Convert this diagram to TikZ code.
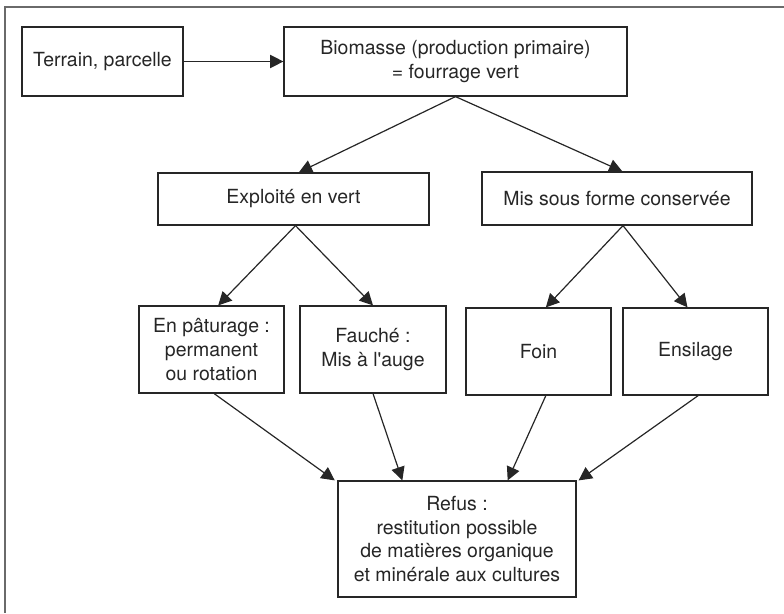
\documentclass[tikz,border=0pt]{standalone}
\usepackage{fontspec}
\setmainfont{TeX Gyre Heros}
\usetikzlibrary{arrows.meta}

\definecolor{trait}{HTML}{262626}
\definecolor{cadre}{HTML}{6A6A6A}

\tikzset{every picture/.style={line width=0.75pt}}
\tikzset{
  boite/.style={draw=trait, line width=0.9pt, align=center, inner sep=0pt,
    text=trait, font=\fontsize{14.6}{17.8}\selectfont},
  fleche/.style={draw=trait, line width=0.9pt, -{Triangle[length=10pt,width=10pt]}}
}

\begin{document}
\begin{tikzpicture}[x=0.75pt,y=0.75pt,yscale=-1,xscale=1]
	\useasboundingbox (0,0) rectangle (784,613);

	%Shape: Frame
	\draw [cadre, line width=1.1pt] (784,7) -- (5,7) -- (5,613) ;

	% Text Node
	\node [boite, minimum width=120.75pt, minimum height=51.75pt] (terrain) at (102.5,61.5) {Terrain, parcelle};
	% Text Node
	\node [boite, minimum width=257.25pt, minimum height=51.75pt] (bio) at (455.5,61.5) {Biomasse (production primaire)\\= fourrage vert};
	% Text Node
	\node [boite, minimum width=203.25pt, minimum height=39pt] (vert) at (293.5,199) {Exploité en vert};
	% Text Node
	\node [boite, minimum width=202.5pt, minimum height=39.75pt] (conserve) at (617,198.5) {Mis sous forme conservée};
	% Text Node
	\node [boite, minimum width=108.75pt, minimum height=65.25pt] (pature) at (211.5,349.5) {En pâturage :\\permanent\\ou rotation};
	% Text Node
	\node [boite, minimum width=109.5pt, minimum height=65.25pt] (fauche) at (373,349.5) {Fauché :\\Mis à l\textquotesingle auge};
	% Text Node
	\node [boite, minimum width=108.75pt, minimum height=65.25pt] (foin) at (538.5,351.5) {Foin};
	% Text Node
	\node [boite, minimum width=108.75pt, minimum height=65.25pt] (ensilage) at (695.5,351.5) {Ensilage};
	% Text Node
	\node [boite, minimum width=178.5pt, minimum height=87pt] (refus) at (457,539) {Refus :\\restitution possible\\de matières organique\\et minérale aux cultures};

	% Arrows
	\draw [fleche] (terrain.east) -- (bio.west) ;
	\draw [fleche] (bio.south) -- ([xshift=4pt]vert.north) ;
	\draw [fleche] (bio.south) -- ([xshift=4pt]conserve.north) ;
	\draw [fleche] ([xshift=1.5pt]vert.south) -- ([xshift=5pt]pature.north) ;
	\draw [fleche] ([xshift=1.5pt]vert.south) -- (fauche.north) ;
	\draw [fleche] ([xshift=4.5pt]conserve.south) -- ([xshift=5.5pt]foin.north) ;
	\draw [fleche] ([xshift=4.5pt]conserve.south) -- ([xshift=-6pt]ensilage.north) ;
	\draw [fleche] ([xshift=2pt]pature.south) -- ([xshift=-2pt]refus.north west) ;
	\draw [fleche] (fauche.south) -- ([xshift=-41pt]refus.north) ;
	\draw [fleche] ([xshift=5.5pt]foin.south) -- ([xshift=38pt]refus.north) ;
	\draw [fleche] ([xshift=2pt]ensilage.south) -- ([xshift=1.5pt]refus.north east) ;

\end{tikzpicture}
\end{document}
